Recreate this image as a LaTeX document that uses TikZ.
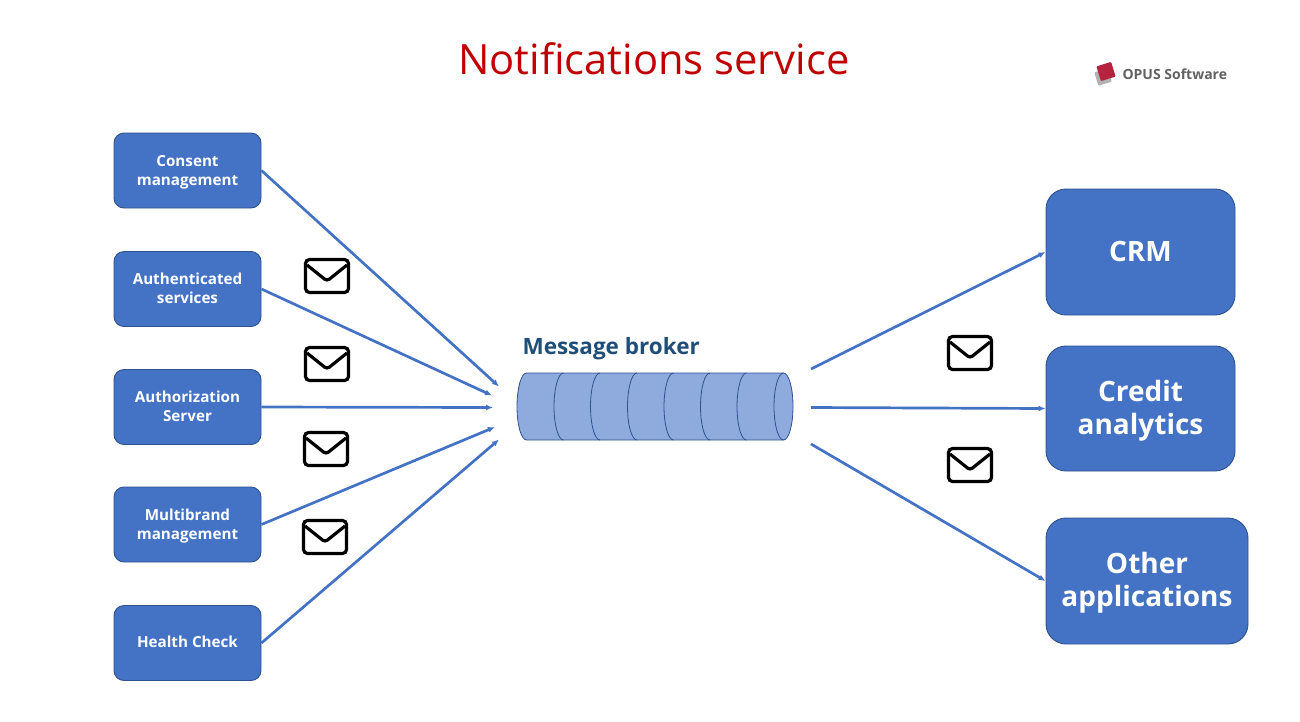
\documentclass[tikz,border=0pt]{standalone}
\usepackage{fontspec}
\setmainfont{Open Sans}
\usetikzlibrary{arrows.meta}
\definecolor{boxblue}{HTML}{4472C4}
\definecolor{boxline}{HTML}{2F528F}
\definecolor{brokerfill}{HTML}{8FAADC}
\definecolor{brokertext}{HTML}{1F4E79}
\definecolor{titlered}{HTML}{C00000}
\definecolor{logored}{HTML}{B5233F}
\newcommand{\tstrut}[1]{\rule{0pt}{\dimexpr\ht\strutbox+#1\relax}}
\begin{document}
\begin{tikzpicture}[
  x = 1pt, y = -1pt,
  > = {Latex[length=7pt,width=6pt]},
  srcbox/.style = {draw=boxline,line width=.9pt,fill=boxblue,rounded corners=10pt,minimum width=147pt,minimum height=75pt,
    inner sep=0pt,align=center,text=white,font=\fontsize{15.2}{19}\selectfont\bfseries},
  dstbox/.style = {draw=boxline,line width=.9pt,fill=boxblue,rounded corners=20pt,minimum height=126pt,
    inner sep=0pt,align=center,text=white,font=\fontsize{28}{33}\selectfont\bfseries},
  flow/.style = {->,draw=boxblue,line width=2.7pt},
  envelope/.pic = {
    \draw[line width=3.2pt,rounded corners=4pt,fill=white] (-21.5,-16.5) rectangle (21.5,16.5);
    \draw[line width=3.2pt,rounded corners=3pt] (-20,-11) -- (0,5) -- (20,-11);
  }
  ]
  \useasboundingbox (0,0) rectangle (1300,721);

  \node[text=titlered,font=\fontsize{41.7}{50}\selectfont] (title) at (654,59) {Notifications service};

  % logo
  \fill[gray!60,rounded corners=1pt,rotate around={17:(1103,77)}] (1096,70) rectangle (1110,84);
  \fill[logored,rounded corners=1pt,rotate around={17:(1106,71.5)}] (1098.3,63.8) rectangle (1113.7,79.2);
  \node[text=black!62,font=\fontsize{14}{17}\selectfont\bfseries,anchor=west] (logo) at (1119,74.5) {OPUS Software};

  \node[srcbox] (consent) at (187.5,170.5) {\tstrut{4pt}Consent\\management\strut};
  \node[srcbox] (authn) at (187.5,289) {\tstrut{2pt}Authenticated\\services\strut};
  \node[srcbox] (authz) at (187.5,407) {\tstrut{2pt}Authorization\\Server\strut};
  \node[srcbox] (brand) at (187.5,524.5) {\tstrut{4pt}Multibrand\\management\strut};
  \node[srcbox] (health) at (187.5,643) {\tstrut{2pt}Health Check\strut};

  \node[dstbox,minimum width=189pt] (crm) at (1140.5,252) {\tstrut{6pt}CRM\strut};
  \node[dstbox,minimum width=189pt,minimum height=125pt] (credit) at (1140.5,408.5) {\tstrut{6pt}Credit\\analytics\strut};
  \node[dstbox,minimum width=202pt] (other) at (1147,581) {\tstrut{4pt}Other\\applications\strut};

  % broker
  \node[text=brokertext,font=\fontsize{22.5}{26}\selectfont\bfseries,anchor=west] (brokerlabel) at (519,349) {Message broker};
  \filldraw[draw=boxline,fill=brokerfill,line width=.8pt] (526.5,373) -- (783.5,373)
    arc[start angle=-90,end angle=90,x radius=9.5,y radius=33.5] -- (526.5,440)
    arc[start angle=90,end angle=270,x radius=9.5,y radius=33.5] -- cycle;
  \foreach \xpos in {563.5,600,637,673.5,710,746.5,783.5}
    \draw[boxline,line width=.8pt] (\xpos,373) arc[start angle=-90,end angle=-270,x radius=9.5,y radius=33.5];

  \coordinate (in1) at (499,386.5);
  \coordinate (in2) at (492,395.5);
  \coordinate (in3) at (493,407.5);
  \coordinate (in4) at (495,427);
  \coordinate (in5) at (499,439.5);
  \coordinate (out1) at (811,369);
  \coordinate (out2) at (811,407.5);
  \coordinate (out3) at (811,444);

  \draw[flow] (consent.east) -- (in1);
  \draw[flow] (authn.east) -- (in2);
  \draw[flow] (authz.east) -- (in3);
  \draw[flow] (brand.east) -- (in4);
  \draw[flow] (health.east) -- (in5);
  \draw[flow] (out1) -- (crm.west);
  \draw[flow] (out2) -- (credit.west);
  \draw[flow] (out3) -- (other.west);

  \pic at (327,276) {envelope};
  \pic at (327,364) {envelope};
  \pic at (326,449) {envelope};
  \pic at (325,537) {envelope};
  \pic at (970,353) {envelope};
  \pic at (970,465) {envelope};
\end{tikzpicture}
\end{document}
